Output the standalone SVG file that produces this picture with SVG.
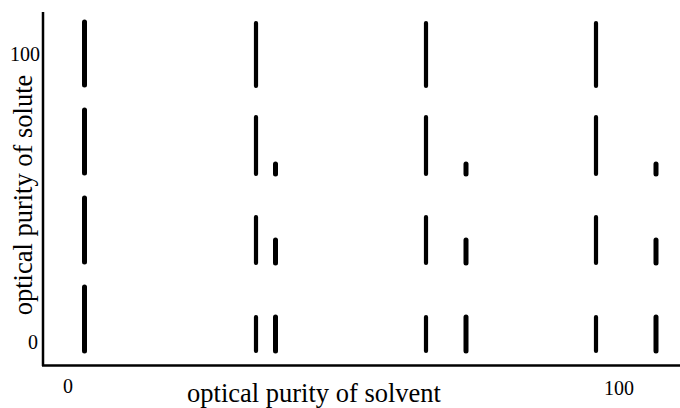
<svg xmlns="http://www.w3.org/2000/svg" width="680" height="408" viewBox="0 0 680 408">
<style>
.ax{stroke:#000;stroke-width:2.5;fill:none}
.b{stroke:#000;stroke-linecap:round;fill:none}
.w5{stroke-width:5}
.w4{stroke-width:4.2}
.t{font-family:"Liberation Serif","Times New Roman",serif;fill:#000}
.n{font-size:20px}
.l{font-size:26.5px}
</style>
<rect width="680" height="408" fill="#fff"/>
<g id="axes">
<line class="ax" x1="43" y1="12" x2="43" y2="366"/>
<line class="ax" x1="42" y1="365.5" x2="680" y2="365.5"/>
</g>
<g id="labels">
<text class="t n" x="40" y="61" text-anchor="end">100</text>
<text class="t n" x="38" y="349" text-anchor="end">0</text>
<text class="t n" x="68" y="393" text-anchor="middle">0</text>
<text class="t n" x="619" y="395" text-anchor="middle">100</text>
<text class="t l" x="314" y="402" text-anchor="middle">optical purity of solvent</text>
<text class="t l" transform="translate(32,195) rotate(-90)" text-anchor="middle">optical purity of solute</text>
</g>
<g id="col1">
<line class="b w5" x1="84.5" y1="22" x2="84.5" y2="85"/>
<line class="b w5" x1="84.5" y1="110" x2="84.5" y2="173"/>
<line class="b w5" x1="84.5" y1="198" x2="84.5" y2="262"/>
<line class="b w5" x1="84.5" y1="287" x2="84.5" y2="351"/>
</g>
<g id="col2">
<line class="b w4" x1="256" y1="23" x2="256" y2="86"/>
<line class="b w4" x1="256" y1="117" x2="256" y2="174"/>
<line class="b w4" x1="256" y1="217" x2="256" y2="263"/>
<line class="b w4" x1="256" y1="317" x2="256" y2="351"/>
<line class="b w5" x1="275.5" y1="164" x2="275.5" y2="174"/>
<line class="b w5" x1="275.5" y1="240" x2="275.5" y2="263"/>
<line class="b w5" x1="275.5" y1="317" x2="275.5" y2="351"/>
</g>
<g id="col3">
<line class="b w4" x1="426" y1="23" x2="426" y2="86"/>
<line class="b w4" x1="426" y1="117" x2="426" y2="174"/>
<line class="b w4" x1="426" y1="217" x2="426" y2="263"/>
<line class="b w4" x1="426" y1="317" x2="426" y2="351"/>
<line class="b w5" x1="466" y1="164" x2="466" y2="174"/>
<line class="b w5" x1="466" y1="240" x2="466" y2="263"/>
<line class="b w5" x1="466" y1="317" x2="466" y2="351"/>
</g>
<g id="col4">
<line class="b w4" x1="596" y1="23" x2="596" y2="86"/>
<line class="b w4" x1="596" y1="117" x2="596" y2="174"/>
<line class="b w4" x1="596" y1="217" x2="596" y2="263"/>
<line class="b w4" x1="596" y1="317" x2="596" y2="351"/>
<line class="b w5" x1="656" y1="164" x2="656" y2="174"/>
<line class="b w5" x1="656" y1="240" x2="656" y2="263"/>
<line class="b w5" x1="656" y1="317" x2="656" y2="351"/>
</g>
</svg>
